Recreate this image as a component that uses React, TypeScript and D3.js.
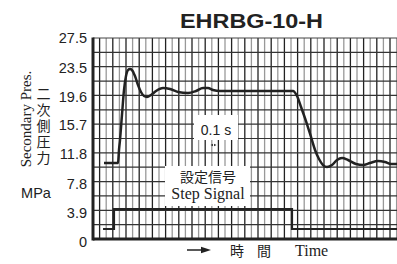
import * as d3 from 'd3';

// time in grid divisions, pressure in MPa
const pressTime = [1.67, 3.79, 3.94, 4.09, 4.39, 4.7, 5.0, 5.3, 5.61, 5.91, 6.36, 6.82, 7.27, 7.73, 8.18, 8.79, 9.55, 10.61, 11.67, 12.88, 14.39, 15.61, 16.67, 17.42, 18.18, 19.24, 30.3, 30.91, 31.52, 32.27, 33.03, 33.64, 34.24, 34.85, 35.45, 36.21, 36.97, 37.73, 38.64, 39.85, 40.91, 41.97, 43.18, 44.24, 45.15, 46.06];
const pressValue = [10.4, 10.4, 12.18, 13.54, 16.97, 20.39, 22.3, 23.12, 23.26, 23.12, 22.3, 21.07, 20.11, 19.56, 19.43, 19.7, 20.25, 20.66, 20.52, 20.11, 19.97, 20.25, 20.66, 20.66, 20.39, 20.25, 20.25, 19.56, 18.06, 16.14, 13.96, 12.18, 10.95, 10.12, 9.85, 10.12, 10.81, 11.08, 10.81, 10.26, 10.12, 10.4, 10.67, 10.53, 10.26, 10.26];

const stepTime = [1.52, 3.18, 30.15, 46.06];
const stepValue = [1.37, 4.1, 1.37, 1.37];

const yTicks = [0, 3.9, 7.8, 11.8, 15.7, 19.6, 23.5, 27.5];
const yTickLabels = ['0', '3.9', '7.8', '11.8', '15.7', '19.6', '23.5', '27.5'];

const W = 397;
const H = 264;
const margin = { top: 38, right: 0, bottom: 25, left: 93 };

export default function App() {
	const x = d3.scaleLinear().domain([0, 46.06]).range([margin.left, W - margin.right]);
	const y = d3.scaleLinear().domain([0, 27.5]).range([H - margin.bottom, margin.top]);

	const vGrid = d3.range(1, 47);
	const hGrid = d3.range(1, 14).map(k => (27.5 / 14) * k);

	const pressLine = d3.line<number>()
		.x((d, i) => x(pressTime[i]))
		.y(d => y(d))
		.curve(d3.curveMonotoneX);

	const stepLine = d3.line<number>()
		.x((d, i) => x(stepTime[i]))
		.y(d => y(d))
		.curve(d3.curveStepAfter);

	const jp = "'Noto Sans CJK JP', sans-serif";
	const serif = "'Liberation Serif', 'Times New Roman', serif";
	const sans = "'Liberation Sans', Arial, sans-serif";

	return (
		<svg width={W} height={H} style={{ position: 'absolute', left: 0, top: 0, background: '#fff' }}>
			{/* grid */}
			{vGrid.map(k => (
				<line key={'v' + k} x1={x(k)} x2={x(k)} y1={y(27.5)} y2={y(0)}
					stroke={k % 2 === 0 ? '#999' : '#222'} strokeWidth={1.3} />
			))}
			{hGrid.map((v, i) => (
				<line key={'h' + i} x1={x(0)} x2={W} y1={y(v)} y2={y(v)}
					stroke="#333" strokeWidth={1.2} />
			))}
			<line x1={x(0)} x2={W} y1={y(27.5)} y2={y(27.5)} stroke="#444" strokeWidth={1} />

			{/* label boxes */}
			<rect x={194} y={115} width={44} height={25} fill="#fff" />
			<text x={216} y={135} textAnchor="middle" fontFamily={sans} fontSize={14} fill="#222">0.1 s</text>
			<path d="M210.5,145 L213,143.8 L213,146.2 Z M216.5,145 L214,143.8 L214,146.2 Z" fill="#333" />

			<rect x={165} y={166} width={85} height={40} fill="#fff" />
			<text x={208} y={181.5} textAnchor="middle" fontFamily={jp} fontSize={14} fill="#222">設定信号</text>
			<text x={208} y={199} textAnchor="middle" fontFamily={serif} fontSize={16} fill="#222">Step Signal</text>

			{/* axes borders */}
			<line x1={x(0)} x2={W} y1={y(0)} y2={y(0)} stroke="#222" strokeWidth={3} />
			<line x1={x(0)} x2={x(0)} y1={y(27.5) - 0.5} y2={y(0) + 1.5} stroke="#222" strokeWidth={3} />

			{/* curves */}
			<path d={stepLine(stepValue) as string} fill="none" stroke="#222" strokeWidth={2.2} />
			<path d={pressLine(pressValue) as string} fill="none" stroke="#222" strokeWidth={2.5} strokeLinejoin="round" />

			{/* y tick labels */}
			{yTicks.map((v, i) => (
				<text key={'t' + i} x={87} y={y(v) + 5 + (27.5 - v) * 0.1} textAnchor="end"
					fontFamily={sans} fontSize={14.5} fill="#222">{yTickLabels[i]}</text>
			))}

			{/* title */}
			<text x={251.5} y={27.5} textAnchor="middle" fontFamily={sans} fontWeight="bold" fontSize={19.5}
				textLength={143} lengthAdjust="spacingAndGlyphs" fill="#222">EHRBG-10-H</text>

			{/* y axis titles */}
			<text transform="translate(31,119) rotate(-90)" textAnchor="middle" fontFamily={serif} fontSize={15} fill="#222">Secondary Pres.</text>
			<text x={43.5} y={87} fontFamily={jp} fontSize={14} fill="#222"
				style={{ writingMode: 'vertical-rl', letterSpacing: '2px' }}>二次側圧力</text>
			<text x={36} y={198} textAnchor="middle" fontFamily={sans} fontSize={14.5} fill="#222">MPa</text>

			{/* x axis title */}
			<line x1={187} x2={203} y1={250} y2={250} stroke="#222" strokeWidth={1.5} />
			<path d="M201,246.8 L211,250 L201,253.2 Z" fill="#222" />
			<text x={237} y={256} textAnchor="middle" fontFamily={jp} fontSize={14} fill="#222">時</text>
			<text x={264} y={256} textAnchor="middle" fontFamily={jp} fontSize={14} fill="#222">間</text>
			<text x={295} y={256} fontFamily={serif} fontSize={16} fill="#222">Time</text>
		</svg>
	);
}
